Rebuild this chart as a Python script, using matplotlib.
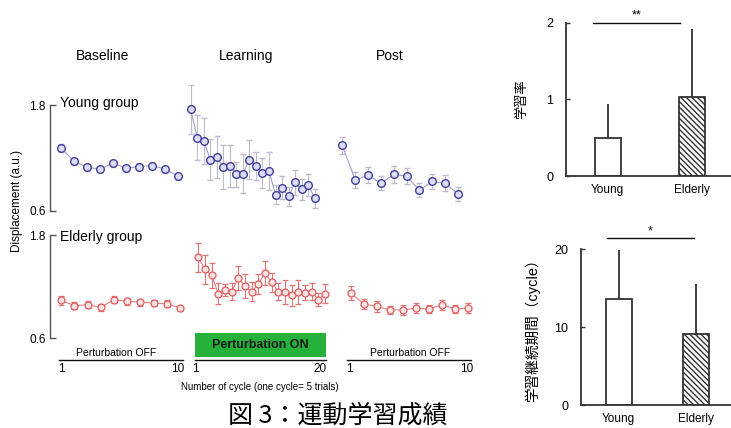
import matplotlib
matplotlib.use('Agg')
import matplotlib.pyplot as plt

plt.rcParams['font.family'] = ['Liberation Sans', 'Noto Sans CJK JP', 'DejaVu Sans']
plt.rcParams['hatch.linewidth'] = 1.0

# ---------------- data ----------------
young_base = [1.31, 1.16, 1.09, 1.07, 1.14, 1.08, 1.10, 1.11, 1.07, 0.99]
young_base_err = [0.05, 0.04, 0.04, 0.03, 0.04, 0.04, 0.04, 0.04, 0.04, 0.04]
young_learn = [1.75, 1.43, 1.39, 1.18, 1.21, 1.09, 1.11, 1.01, 1.02, 1.18,
               1.11, 1.03, 1.05, 0.78, 0.86, 0.76, 0.92, 0.84, 0.89, 0.74]
young_learn_err = [0.28, 0.26, 0.26, 0.23, 0.24, 0.25, 0.24, 0.14, 0.22, 0.22,
                   0.16, 0.17, 0.22, 0.11, 0.13, 0.11, 0.14, 0.12, 0.13, 0.11]
young_post = [1.34, 0.95, 1.00, 0.91, 1.01, 0.99, 0.83, 0.93, 0.91, 0.79]
young_post_err = [0.10, 0.09, 0.09, 0.08, 0.10, 0.09, 0.08, 0.09, 0.09, 0.08]

elderly_base = [1.04, 0.98, 0.99, 0.96, 1.05, 1.03, 1.02, 1.01, 1.00, 0.95]
elderly_base_err = [0.05, 0.04, 0.04, 0.04, 0.04, 0.04, 0.04, 0.04, 0.04, 0.03]
elderly_learn = [1.54, 1.40, 1.33, 1.12, 1.16, 1.14, 1.30, 1.21, 1.14, 1.23,
                 1.36, 1.25, 1.14, 1.14, 1.10, 1.14, 1.13, 1.14, 1.05, 1.12]
elderly_learn_err = [0.17, 0.17, 0.14, 0.12, 0.07, 0.10, 0.14, 0.14, 0.11, 0.12,
                     0.14, 0.11, 0.10, 0.14, 0.12, 0.14, 0.09, 0.10, 0.08, 0.11]
elderly_post = [1.13, 1.00, 0.97, 0.93, 0.93, 0.95, 0.94, 0.99, 0.94, 0.95]
elderly_post_err = [0.08, 0.06, 0.06, 0.05, 0.06, 0.06, 0.05, 0.06, 0.05, 0.06]

groups = ['Young', 'Elderly']
learning_rate = [0.50, 1.03]
learning_rate_sd = [0.44, 0.89]
retention = [13.6, 9.1]
retention_sd = [6.3, 6.4]

phase_titles = ['Baseline', 'Learning', 'Post']
row_titles = ['Young group', 'Elderly group']

# ---------------- helpers ----------------
W, H = 731, 428
fig = plt.figure(figsize=(W / 100, H / 100), dpi=100)


def add_ax(l, t, r, b):
    return fig.add_axes([l / W, 1 - b / H, (r - l) / W, (b - t) / H])


def lim_x(pl, pr, v1, p1, v2, p2):
    s = (p2 - p1) / (v2 - v1)
    return (v1 - (p1 - pl) / s, v2 + (pr - p2) / s)


def lim_y(pt, pb, vtop, ptop, vbot, pbot):
    s = (pbot - ptop) / (vtop - vbot)
    return (vbot - (pb - pbot) / s, vtop + (ptop - pt) / s)


def clean(ax):
    for sp in ax.spines.values():
        sp.set_visible(False)
    ax.set_xticks([])
    ax.set_yticks([])
    ax.patch.set_visible(False)


blue = dict(color='#a0a0cc', ecolor='#bcbccc', mfc='#dcdcf2', mec='#40409c',
            ms=5.5, lw=0.8, elinewidth=0.8, capsize=2.5, capthick=0.8, mew=1.0)
red = dict(color='#e88080', ecolor='#e47272', mfc='#fce4e4', mec='#e05a5a',
           ms=5.0, lw=0.8, elinewidth=0.8, capsize=2.5, capthick=0.8, mew=0.9)

rows = [
    dict(top=75, bot=215, ytop=105, ybot=210.5, style=blue,
         data=[(young_base, young_base_err), (young_learn, young_learn_err),
               (young_post, young_post_err)],
         xmap=[(50, 188, 61, 178.3), (186, 330, 190.7, 314.7), (335, 475, 342.3, 458)]),
    dict(top=225, bot=345, ytop=235, ybot=338.3, style=red,
         data=[(elderly_base, elderly_base_err), (elderly_learn, elderly_learn_err),
               (elderly_post, elderly_post_err)],
         xmap=[(50, 190, 61.3, 180), (186, 335, 198.3, 325), (335, 478, 350.7, 468)]),
]

for ri, row in enumerate(rows):
    ylim = lim_y(row['top'], row['bot'], 1.8, row['ytop'], 0.6, row['ybot'])
    for pi, ((vals, errs), (pl, pr, p1, p2)) in enumerate(zip(row['data'], row['xmap'])):
        ax = add_ax(pl, row['top'], pr, row['bot'])
        n = len(vals)
        xs = list(range(1, n + 1))
        ax.set_xlim(*lim_x(pl, pr, 1, p1, n, p2))
        ax.set_ylim(*ylim)
        ax.errorbar(xs, vals, yerr=errs, fmt='-o', **row['style'], clip_on=False)
        clean(ax)
        if pi == 0:
            ax.spines['left'].set_visible(True)
            ax.spines['left'].set_bounds(0.6, 1.8)
            ax.spines['left'].set_color('#555555')
            ax.spines['left'].set_linewidth(1.0)
            ax.set_yticks([0.6, 1.8])
            ax.set_yticklabels(['0.6', '1.8'])
            ax.tick_params(axis='y', direction='in', length=4, width=1.0,
                           color='#555555', labelsize=8.5, pad=3)

# row titles positioned in pixel coordinates
for ri, ty in enumerate([103, 237]):
    fig.text(60 / W, 1 - ty / H, row_titles[ri], fontsize=10, va='center', ha='left')

# phase titles
for title, cx in zip(phase_titles, [103, 246.5, 389.5]):
    fig.text(cx / W, 1 - 56 / H, title, fontsize=10, ha='center', va='center')

fig.text(17 / W, 1 - 201 / H, 'Displacement (a.u.)', rotation=90, fontsize=8.5,
         ha='center', va='center')

# bottom cycle axes
bottom_axes = [(59, 183, 1, 61, 10, 178), (195, 326, 1, 195, 20, 320),
               (347, 471, 1, 349, 10, 466.7)]
for (pl, pr, v1, p1, v2, p2) in bottom_axes:
    ax = add_ax(pl, 340, pr, 360)
    ax.set_xlim(*lim_x(pl, pr, v1, p1, v2, p2))
    ax.set_ylim(0, 1)
    clean(ax)
    ax.spines['bottom'].set_visible(True)
    ax.spines['bottom'].set_color('#111111')
    ax.spines['bottom'].set_linewidth(1.0)
    ax.set_xticks([v1, v2])
    ax.set_xticklabels([str(v1), str(v2)])
    ax.tick_params(axis='x', length=0, labelsize=8.5, pad=2)

fig.text(116.5 / W, 1 - 352.5 / H, 'Perturbation OFF', fontsize=7.5, ha='center', va='center')
fig.text(410 / W, 1 - 353 / H, 'Perturbation OFF', fontsize=7.5, ha='center', va='center')

box = add_ax(195, 333, 326, 356.7)
box.set_facecolor('#26b23a')
for sp in box.spines.values():
    sp.set_visible(False)
box.set_xticks([])
box.set_yticks([])
box.text(0.5, 0.5, 'Perturbation ON', fontsize=9, fontweight='bold', color='#1a1a1a',
         ha='center', va='center', transform=box.transAxes)

fig.text(260 / W, 1 - 387 / H, 'Number of cycle (one cycle= 5 trials)', fontsize=7,
         ha='center', va='center')

# ---------------- bar charts ----------------
def bar_panel(l, t, r, b, y0, y1, vals, sds, ticks, ylabel, lab_x, lab_size, sig_y, star,
              star_y, sig_x0, sig_x1, centers_px):
    ax = add_ax(l, t, r, b)
    c0, c1 = centers_px
    s = c1 - c0
    ax.set_xlim((l - c0) / s, 1 + (r - c1) / s)
    ax.set_ylim(y0, y1)
    width = 26 / s
    xs = [0, 1]
    hatches = ['', '\\\\\\\\\\\\']
    for x, v, sd, h in zip(xs, vals, sds, hatches):
        ax.bar(x, v, width=width, facecolor='white', edgecolor='#333333',
               linewidth=1.3, hatch=h, zorder=2)
        ax.plot([x, x], [v, v + sd], color='#333333', lw=1.3, zorder=1,
                solid_capstyle='butt')
    for sp in ['top', 'right']:
        ax.spines[sp].set_visible(False)
    ax.spines['left'].set_bounds(y0, y1)
    for sp in ['left', 'bottom']:
        ax.spines[sp].set_color('#333333')
        ax.spines[sp].set_linewidth(1.3)
    ax.set_yticks(ticks)
    ax.set_yticklabels([str(tk) for tk in ticks])
    ax.tick_params(axis='y', direction='in', length=3, width=1.0, labelsize=9, pad=9,
                   color='#333333')
    ax.set_xticks(xs)
    ax.set_xticklabels(groups)
    ax.tick_params(axis='x', length=0, labelsize=8.5, pad=6)
    ax.patch.set_visible(False)
    sx0 = (sig_x0 - c0) / s
    sx1 = (sig_x1 - c0) / s
    ax.plot([sx0, sx1], [sig_y, sig_y], color='#111111', lw=1.0, clip_on=False)
    ax.text((sx0 + sx1) / 2, star_y, star, ha='center', va='center', fontsize=9)
    fig.text(lab_x / W, 1 - ((t + b) / 2) / H, ylabel, rotation=90, fontsize=lab_size,
             ha='center', va='center')
    return ax


bar_panel(566, 22.7, 731, 176, 0, 2, learning_rate, learning_rate_sd, [0, 1, 2],
          '学習率', 522, 9.5, 2.0, '**', 2.1, 593.3, 680.3, (607.5, 692))
bar_panel(580.7, 249.3, 731, 405, 0, 20, retention, retention_sd, [0, 10, 20],
          '学習継続期間（cycle）', 532, 10.5, 21.5, '*', 22.3, 606.7, 694.3, (618.5, 695.7))

# caption at the bottom edge
fig.text(228 / W, 1 - 423 / H, '図 3：運動学習成績', fontsize=18, ha='left',
         va='baseline', family=['Noto Sans CJK JP'])

fig.savefig('out.png', dpi=100)
